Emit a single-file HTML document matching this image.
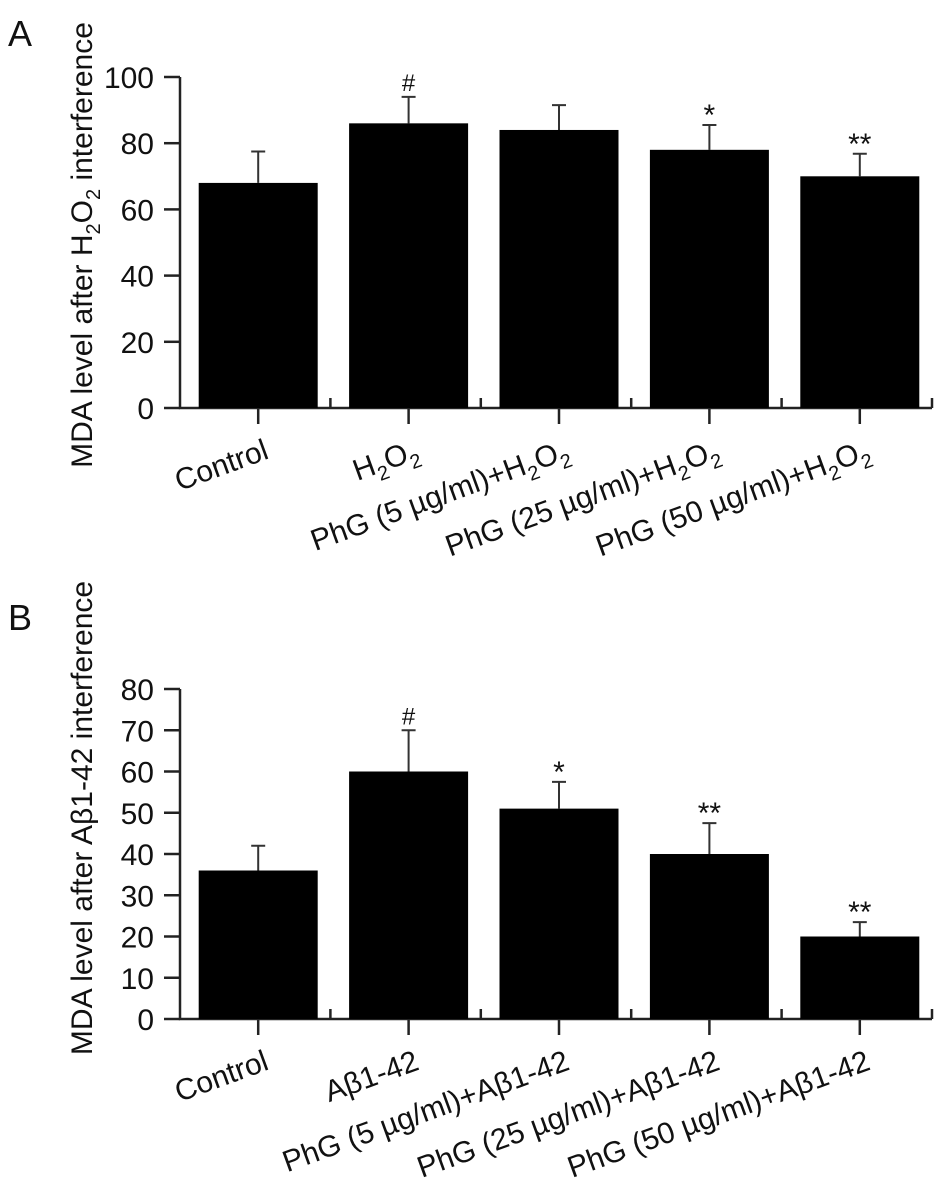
<!DOCTYPE html>
<html><head><meta charset="utf-8"><style>
html,body{margin:0;padding:0;background:#fff;}
svg text{font-family:"Liberation Sans",Arial,sans-serif;fill:#111;}
</style></head><body>
<svg id="fig" width="945" height="1192" viewBox="0 0 945 1192" xmlns="http://www.w3.org/2000/svg">
<text x="8" y="46" font-size="36">A</text>
<text x="8" y="630" font-size="36">B</text>
<text transform="translate(92,245) rotate(-90)" text-anchor="middle" font-size="30">MDA level after H<tspan font-size="20" dy="8">2</tspan><tspan dy="-8">O</tspan><tspan font-size="20" dy="8">2</tspan><tspan dy="-8"> interference</tspan></text>
<text transform="translate(92,818) rotate(-90)" text-anchor="middle" font-size="30">MDA level after Aβ1-42 interference</text>
<g id="pa"></g><g id="pb"></g>
</svg>
<script>
const catsA = ["Control","H2O2","PhG (5 µg/ml)+H2O2","PhG (25 µg/ml)+H2O2","PhG (50 µg/ml)+H2O2"];
const valsA = [68, 86, 84, 78, 70];
const errA = [77.5, 94, 91.5, 85.5, 76.8];
const sigA = ["", "#", "", "*", "**"];
const ticksA = [0,20,40,60,80,100];
const catsB = ["Control","Aβ1-42","PhG (5 µg/ml)+Aβ1-42","PhG (25 µg/ml)+Aβ1-42","PhG (50 µg/ml)+Aβ1-42"];
const valsB = [36, 60, 51, 40, 20];
const errB = [42, 70, 57.5, 47.5, 23.5];
const sigB = ["", "#", "*", "**", "**"];
const ticksB = [0,10,20,30,40,50,60,70,80];
const NS="http://www.w3.org/2000/svg";
function mk(g,tag,attrs){const e=document.createElementNS(NS,tag);for(const k in attrs)e.setAttribute(k,attrs[k]);g.appendChild(e);return e;}
function labelHTML(t){return t.replace(/H2O2/g,'H<tspan font-size="20" dy="8">2</tspan><tspan dy="-8">O</tspan><tspan font-size="20" dy="8">2</tspan><tspan dy="-8"></tspan>');}
function panel(g,cats,vals,errs,sigs,ticks,y0,yTop,pfx){
  const x0=180,x1=932,ymax=ticks[ticks.length-1];
  const Y=v=>y0-(v/ymax)*(y0-yTop);
  const pitch=(x1-x0)/cats.length;
  const X=i=>x0+pitch*(i+0.5)+3;
  const bw=119;
  const ax=mk(g,'path',{d:`M${x0},${Y(ymax)}V${y0}H${x1}`,fill:'none',stroke:'#222','stroke-width':2.5});
  
  
  ticks.forEach(t=>{
    const l=mk(g,'line',{x1:x0-16,x2:x0,y1:Y(t),y2:Y(t),stroke:'#222','stroke-width':2.5});
    
    
    const tx=mk(g,'text',{x:x0-26,y:Y(t)+11,'text-anchor':'end','font-size':30});
    tx.textContent=t;
    
    
  });
  for(let i=1;i<=cats.length;i++){
    const bx=x0+pitch*i;
    const l=mk(g,'line',{x1:bx,x2:bx,y1:y0,y2:y0-10,stroke:'#222','stroke-width':2.5});
    
    
  }
  cats.forEach((c,i)=>{
    const cx=X(i);
    const ct=mk(g,'line',{x1:cx,x2:cx,y1:y0,y2:y0+16,stroke:'#222','stroke-width':2.5});
    
    
    const eb=mk(g,'path',{d:`M${cx},${Y(vals[i])}V${Y(errs[i])}M${cx-7},${Y(errs[i])}H${cx+7}`,stroke:'#333','stroke-width':2,fill:'none'});
    
    
    const r=mk(g,'rect',{x:cx-bw/2,y:Y(vals[i]),width:bw,height:y0-Y(vals[i]),fill:'#000'});
    
    
    if(sigs[i]){const s=mk(g,'text',{x:cx,y:Y(errs[i])-(sigs[i]==='#'?6:0),'text-anchor':'middle','font-size':sigs[i]==='#'?24:30});
      s.textContent=sigs[i];
      
      }
    const lb=mk(g,'text',{transform:`translate(${cx+12},${y0+50}) rotate(-20)`,'text-anchor':'end','font-size':30});
    lb.innerHTML=labelHTML(c);
    
    
  });
}
panel(document.getElementById('pa'),catsA,valsA,errA,sigA,ticksA,408,77,'a');
panel(document.getElementById('pb'),catsB,valsB,errB,sigB,ticksB,1019,689,'b');
</script>
</body></html>
